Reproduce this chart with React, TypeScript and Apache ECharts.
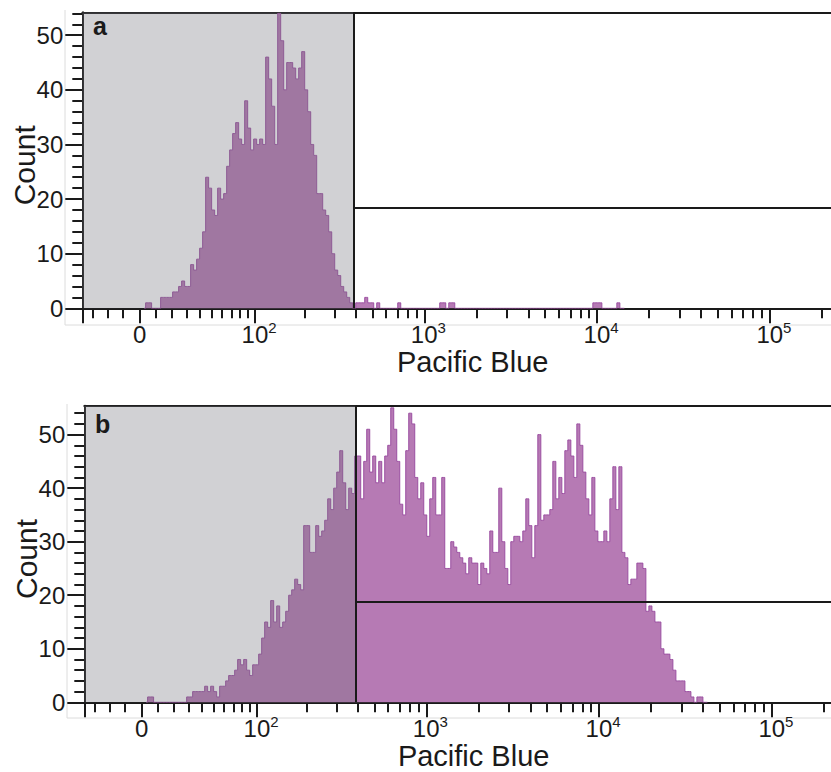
import React, { useEffect, useRef } from "react";
import * as echarts from "echarts";

// ---- scale / binning (display units = asinh(value / BIEX_WIDTH)) ----
const BIEX_WIDTH = 45;
const BIN_START = 0.08;
const BIN_WIDTH = 0.04;
const X_MIN = -0.7636;
const X_MAX_A = 9.2137;
const X_MAX_B = 9.187;
const Y_MAX_A = 54.2;
const Y_MAX_B = 55.4;

// ---- gates ----
const gateValue = 390;
const gateCountA = 18.5;
const gateCountB = 18.8;

// ---- histogram counts, bin by bin from BIN_START ----
const countsA = [
  1, 1, 0, 0, 0, 2, 2, 2, 2, 3,
  3, 4, 5, 4, 4, 8, 7, 9, 11, 14,
  24, 22, 18, 17, 22, 20, 21, 26, 29, 32,
  34, 31, 30, 38, 33, 29, 31, 30, 31, 30,
  46, 42, 37, 30, 54, 49, 40, 45, 45, 44,
  42, 44, 47, 40, 36, 30, 28, 21, 21, 18,
  17, 14, 10, 7, 6, 4, 3, 2, 1, 0,
  1, 1, 1, 2, 1, 1, 0, 1, 0, 0,
  0, 0, 0, 0, 1, 0, 0, 0, 0, 0,
  0, 0, 0, 0, 0, 0, 0, 0, 1, 1,
  0, 1, 1, 0, 0, 0, 0, 0, 0, 0,
  0, 0, 0, 0, 0, 0, 0, 0, 0, 0,
  0, 0, 0, 0, 0, 0, 0, 0, 0, 0,
  0, 0, 0, 0, 0, 0, 0, 0, 0, 0,
  0, 0, 0, 0, 0, 0, 0, 0, 0, 1,
  1, 1, 0, 0, 0, 0, 0, 1, 0,
];

const countsB = [
  1, 1, 0, 0, 0, 0, 0, 0, 0, 0,
  0, 0, 0, 1, 1, 2, 2, 2, 2, 3,
  2, 3, 2, 1, 3, 3, 4, 5, 5, 6,
  8, 7, 8, 6, 5, 7, 7, 9, 12, 15,
  14, 19, 15, 18, 14, 15, 17, 20, 21, 23,
  22, 21, 33, 33, 28, 28, 33, 31, 32, 34,
  38, 36, 40, 43, 47, 41, 36, 40, 39, 46,
  46, 38, 45, 51, 43, 46, 41, 45, 41, 46,
  48, 55, 51, 45, 37, 35, 47, 54, 52, 42,
  38, 41, 35, 31, 38, 42, 35, 35, 42, 25,
  25, 30, 29, 28, 27, 26, 24, 27, 26, 26,
  22, 26, 25, 24, 32, 28, 28, 40, 30, 25,
  22, 30, 31, 31, 30, 32, 38, 33, 27, 33,
  50, 34, 35, 35, 36, 45, 38, 42, 39, 47,
  49, 46, 42, 52, 48, 43, 38, 35, 42, 32,
  30, 30, 32, 30, 38, 44, 36, 44, 28, 27,
  22, 23, 23, 26, 26, 25, 17, 18, 17, 15,
  15, 10, 9, 9, 8, 6, 4, 4, 4, 2,
  2, 1, 0, 1, 1, 0,
];

// ---- ticks ----
const xMajorValues = [0, 100, 1000, 10000, 100000];
const xMajorLabels = ["{p|0}", "{q|10}{s|2}", "{q|10}{s|3}", "{q|10}{s|4}", "{q|10}{s|5}"];
const xMinorValues = [
  -30, -20, -10, 10, 20, 30, 40, 50, 60, 70, 80, 90,
  200, 300, 400, 500, 600, 700, 800, 900,
  2000, 3000, 4000, 5000, 6000, 7000, 8000, 9000,
  20000, 30000, 40000, 50000, 60000, 70000, 80000, 90000, 200000,
];
const yMajorValues = [0, 10, 20, 30, 40, 50];
const yMinorValues = [0, 2, 4, 6, 8, 10, 12, 14, 16, 18, 20, 22, 24, 26, 28, 30, 32, 34, 36, 38, 40, 42, 44, 46, 48, 50, 52, 54];

const FONT = '"Liberation Sans", Arial, Helvetica, sans-serif';
const INK = "#1a1a1a";
const FILL = "#b67ab4";
const EDGE = "#9b4fa1";
const SHADE = "rgba(115,116,124,0.33)";

const toDisplay = (v: number) => Math.asinh(v / BIEX_WIDTH);

function histData(counts: number[]) {
  const pts: number[][] = [[BIN_START - BIN_WIDTH / 2, 0]];
  counts.forEach((c, i) => pts.push([BIN_START + (i + 0.5) * BIN_WIDTH, c]));
  pts.push([BIN_START + (counts.length + 0.5) * BIN_WIDTH, 0]);
  return pts;
}

function panel(p: number, counts: number[], xMax: number, yMax: number, gateCount: number) {
  const majorD = xMajorValues.map(toDisplay);
  const gate = toDisplay(gateValue);
  const axisLine = { show: true, onZero: false, lineStyle: { color: INK, width: 2 } };
  const tickLine = { color: INK, width: 2 };
  const xAxes = [
    {
      type: "value", gridIndex: p, position: "bottom", offset: 0, min: X_MIN, max: xMax,
      axisLine,
      axisTick: { show: true, length: 15, lineStyle: tickLine, customValues: [X_MIN, ...majorD] },
      axisLabel: {
        show: true, customValues: majorD, margin: 12, color: INK, fontFamily: FONT,
        formatter: (v: number) => {
          let best = 0;
          majorD.forEach((d, i) => { if (Math.abs(d - v) < Math.abs(majorD[best] - v)) best = i; });
          return xMajorLabels[best];
        },
        rich: {
          p: { fontSize: 24, lineHeight: 28, color: INK, fontFamily: FONT },
          q: { fontSize: 24, lineHeight: 28, color: INK, fontFamily: FONT, padding: [0, 0, 0, 8] },
          s: { fontSize: 15, lineHeight: 15, color: INK, fontFamily: FONT, verticalAlign: "top" },
        },
      },
      splitLine: { show: false },
      name: "Pacific Blue", nameLocation: "middle", nameGap: 39,
      nameTextStyle: { fontSize: 29, lineHeight: 29, color: INK, fontFamily: FONT, padding: [0, 0, 0, 32] },
    },
    {
      type: "value", gridIndex: p, position: "bottom", offset: 0, min: X_MIN, max: xMax,
      axisLine: { show: false, onZero: false },
      axisTick: { show: true, length: 10, lineStyle: tickLine, customValues: xMinorValues.map(toDisplay) },
      axisLabel: { show: false },
      splitLine: { show: false },
    },
    {
      type: "value", gridIndex: p, position: "top", offset: 0, min: X_MIN, max: xMax,
      axisLine,
      axisTick: { show: false },
      axisLabel: { show: false },
      splitLine: { show: false },
    },
  ];
  const yAxes = [
    {
      type: "value", gridIndex: p, position: "left", offset: 0, min: 0, max: yMax,
      axisLine,
      axisTick: { show: true, length: 17, lineStyle: tickLine, customValues: yMajorValues },
      axisLabel: { show: true, customValues: yMajorValues, margin: 19, fontSize: 24, color: INK, fontFamily: FONT },
      splitLine: { show: false },
      name: "Count", nameLocation: "middle", nameGap: 43, nameRotate: 90, nameMoveOverlap: false,
      nameTextStyle: { fontSize: 30, lineHeight: 30, color: INK, fontFamily: FONT, padding: [0, 10, 0, 0] },
    },
    {
      type: "value", gridIndex: p, position: "left", offset: 0, min: 0, max: yMax,
      axisLine: { show: false, onZero: false },
      axisTick: { show: true, length: 10, lineStyle: tickLine, customValues: yMinorValues },
      axisLabel: { show: false },
      splitLine: { show: false },
    },
  ];
  const series = [
    {
      type: "line", xAxisIndex: p * 3, yAxisIndex: p * 2, step: "middle", symbol: "none",
      data: histData(counts), silent: true, z: 2,
      lineStyle: { color: EDGE, width: 1 },
      areaStyle: { color: FILL, opacity: 1 },
      markArea: {
        z: 3, silent: true,
        itemStyle: { color: SHADE, borderWidth: 0 },
        data: [[{ coord: [X_MIN, 0] }, { coord: [gate, yMax] }]],
      },
      markLine: {
        z: 6, silent: true, symbol: "none", animation: false,
        label: { show: false },
        lineStyle: { color: INK, width: 2, type: "solid" },
        data: [
          [{ coord: [gate, 0] }, { coord: [gate, yMax] }],
          [{ coord: [gate, gateCount] }, { coord: [xMax, gateCount] }],
        ],
      },
    },
  ];
  return { xAxes, yAxes, series };
}

export default function App() {
  const ref = useRef<HTMLDivElement>(null);
  useEffect(() => {
    document.body.style.margin = "0";
    if (!ref.current) return;
    const chart = echarts.init(ref.current, null, { renderer: "svg" });
    const a = panel(0, countsA, X_MAX_A, Y_MAX_A, gateCountA);
    const b = panel(1, countsB, X_MAX_B, Y_MAX_B, gateCountB);
    chart.setOption({
      animation: false,
      backgroundColor: "#ffffff",
      textStyle: { fontFamily: FONT },
      grid: [
        { left: 82.3, top: 12.3, width: 748.7, height: 296, containLabel: false, outerBoundsMode: "none" },
        { left: 84.3, top: 405.7, width: 746.7, height: 296.6, containLabel: false, outerBoundsMode: "none" },
      ],
      xAxis: [...a.xAxes, ...b.xAxes],
      yAxis: [...a.yAxes, ...b.yAxes],
      series: [...a.series, ...b.series],
      graphic: [
        { type: "line", silent: true, shape: { x1: 65, y1: 10, x2: 65, y2: 325 }, style: { stroke: "#dcdcdc", lineWidth: 1 } },
        { type: "line", silent: true, shape: { x1: 65, y1: 325, x2: 831, y2: 325 }, style: { stroke: "#dcdcdc", lineWidth: 1 } },
        { type: "line", silent: true, shape: { x1: 67, y1: 404, x2: 67, y2: 718 }, style: { stroke: "#dcdcdc", lineWidth: 1 } },
        { type: "line", silent: true, shape: { x1: 67, y1: 718, x2: 831, y2: 718 }, style: { stroke: "#dcdcdc", lineWidth: 1 } },
        { type: "text", silent: true, z: 20, style: { x: 93, y: 26.3, text: "a", font: `bold 25px ${FONT}`, fill: INK, textVerticalAlign: "middle" } },
        { type: "text", silent: true, z: 20, style: { x: 95, y: 424.3, text: "b", font: `bold 25px ${FONT}`, fill: INK, textVerticalAlign: "middle" } },
      ],
    });
    return () => chart.dispose();
  }, []);
  return <div ref={ref} style={{ width: 831, height: 772 }} />;
}
